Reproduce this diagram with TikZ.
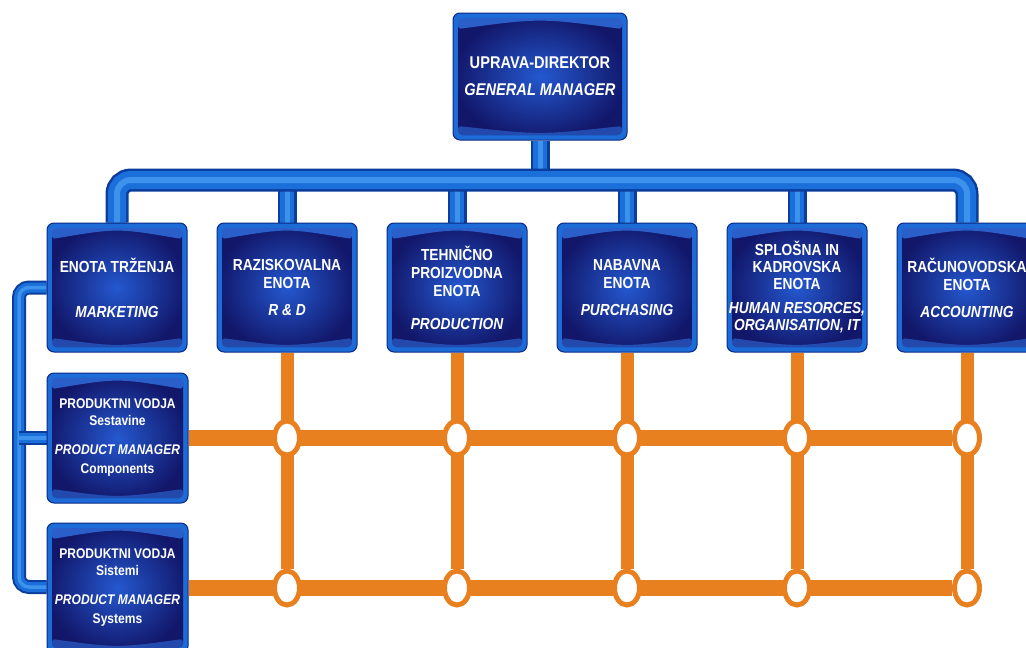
\documentclass[tikz,border=0pt]{standalone}
\usepackage{fontspec}
\newfontfamily\lab[FakeStretch=0.86]{Liberation Sans}
\usetikzlibrary{shapes.geometric,backgrounds}
\definecolor{boxrim}{HTML}{1C6BD6}
\definecolor{navyline}{HTML}{0D2A86}
\definecolor{boxmid}{HTML}{2458CF}
\definecolor{boxedge}{HTML}{12176A}
\definecolor{boxhl}{HTML}{2F6BDA}
\definecolor{pipedark}{HTML}{0B3D9C}
\definecolor{pipemid}{HTML}{1A6FDB}
\definecolor{pipelight}{HTML}{3D92EC}
\definecolor{orangeln}{HTML}{E9801F}
\begin{document}
\begin{tikzpicture}[x=1pt,y=-1pt,
  box/.style={rectangle, rounded corners=7pt, draw=navyline, line width=1pt,
    fill=boxrim, text=white, align=center, inner sep=0pt,
    path picture={
      \fill[rounded corners=4pt, inner color=boxmid, outer color=boxedge]
        ([shift={(5pt,-5pt)}]path picture bounding box.north west) rectangle
        ([shift={(-5pt,5pt)}]path picture bounding box.south east);
      \fill[boxhl, rounded corners=3pt, opacity=0.85]
        ([shift={(5pt,-5pt)}]path picture bounding box.north west) --
        ([shift={(-5pt,-5pt)}]path picture bounding box.north east) --
        ([shift={(-5pt,-16pt)}]path picture bounding box.north east) ..
        controls ([shift={(0pt,-5pt)}]path picture bounding box.north) ..
        ([shift={(5pt,-16pt)}]path picture bounding box.north west) -- cycle;
      \fill[boxhl, rounded corners=3pt, opacity=0.6]
        ([shift={(5pt,5pt)}]path picture bounding box.south west) --
        ([shift={(-5pt,5pt)}]path picture bounding box.south east) --
        ([shift={(-5pt,14pt)}]path picture bounding box.south east) ..
        controls ([shift={(0pt,5pt)}]path picture bounding box.south) ..
        ([shift={(5pt,14pt)}]path picture bounding box.south west) -- cycle;
    }},
  dept/.style={box, minimum width=140pt, minimum height=129pt,
    font=\lab\bfseries\fontsize{16}{18}\selectfont},
  pmbox/.style={box, minimum width=141pt, minimum height=130pt,
    font=\lab\bfseries\fontsize{14}{17}\selectfont},
  topbox/.style={box, minimum width=174pt, minimum height=127pt,
    font=\lab\bfseries\fontsize{17}{27}\selectfont},
  bus/.style={line width=23pt, draw=pipedark,
    postaction={draw=pipemid, line width=18pt},
    postaction={draw=pipelight, line width=6pt}},
  drop/.style={line width=19pt, draw=pipedark,
    postaction={draw=pipemid, line width=14pt},
    postaction={draw=pipelight, line width=5pt}},
  thinpipe/.style={line width=14pt, draw=pipedark,
    postaction={draw=pipemid, line width=10pt},
    postaction={draw=pipelight, line width=3.5pt}},
  orh/.style={draw=orangeln, line width=16pt},
  orv/.style={draw=orangeln, line width=13pt},
  jn/.style={ellipse, draw=orangeln, line width=5pt, fill=white,
    minimum width=25pt, minimum height=34pt, inner sep=0pt}
]
\useasboundingbox (0,0) rectangle (1026,648);
\clip (0,0) rectangle (1026,648);

% boxes
\node[topbox] (top) at (540,76.5) {UPRAVA-DIREKTOR\\\itshape GENERAL MANAGER};

\node[dept] (d1) at (117,287.5) {ENOTA TRŽENJA\\[27pt]\itshape MARKETING};
\node[dept] (d2) at (287,287.5) {RAZISKOVALNA\\ENOTA\\[9pt]\itshape R \& D};
\node[dept] (d3) at (457,287.5) {TEHNIČNO\\PROIZVODNA\\ENOTA\\[15pt]\itshape PRODUCTION};
\node[dept] (d4) at (627,287.5) {NABAVNA\\ENOTA\\[9pt]\itshape PURCHASING};
\node[dept, font=\lab\bfseries\fontsize{16}{17}\selectfont] (d5) at (797,287.5)
  {SPLOŠNA IN\\KADROVSKA\\ENOTA\\[7pt]\itshape HUMAN RESORCES,\\\itshape ORGANISATION, IT};
\node[dept] (d6) at (967,287.5) {RAČUNOVODSKA\\ENOTA\\[9pt]\itshape ACCOUNTING};

\node[pmbox] (pm1) at (117.5,438)
  {PRODUKTNI VODJA\\{\fontsize{14}{16}\selectfont Sestavine}\\[12pt]\itshape PRODUCT MANAGER\\[2pt]{\fontsize{14}{16}\selectfont Components}};
\node[pmbox] (pm2) at (117.5,588)
  {PRODUKTNI VODJA\\{\fontsize{14}{16}\selectfont Sistemi}\\[12pt]\itshape PRODUCT MANAGER\\[2pt]{\fontsize{14}{16}\selectfont Systems}};

% junctions
\foreach \i in {2,...,6} {
  \node[jn] (ja\i) at (d\i.south |- pm1.east) {};
  \node[jn] (jb\i) at (d\i.south |- pm2.east) {};
}

\coordinate (busy) at (540,180);
\coordinate (bl) at (19,587);

\begin{pgfonlayer}{background}
  \fill[white] (0,0) rectangle (1026,648);
  % blue pipes
  \draw[drop] (top.south) -- (busy);
  \foreach \i in {2,...,5} {\draw[drop] (d\i.north |- busy) -- (d\i.north);}
  \draw[bus, rounded corners=14pt] (d1.north) |- (busy) -| (d6.north);
  \draw[thinpipe, rounded corners=10pt] (d1.west) -| (bl) -- (bl -| pm2.west);
  \draw[thinpipe] (pm1.west -| bl) -- (pm1.west);
  % orange matrix
  \foreach \i in {2,...,6} {\draw[orv] (d\i.south) -- (jb\i);}
  \draw[orh] (pm1.east) -- (ja6);
  \draw[orh] (pm2.east) -- (jb6);
\end{pgfonlayer}
\end{tikzpicture}
\end{document}
